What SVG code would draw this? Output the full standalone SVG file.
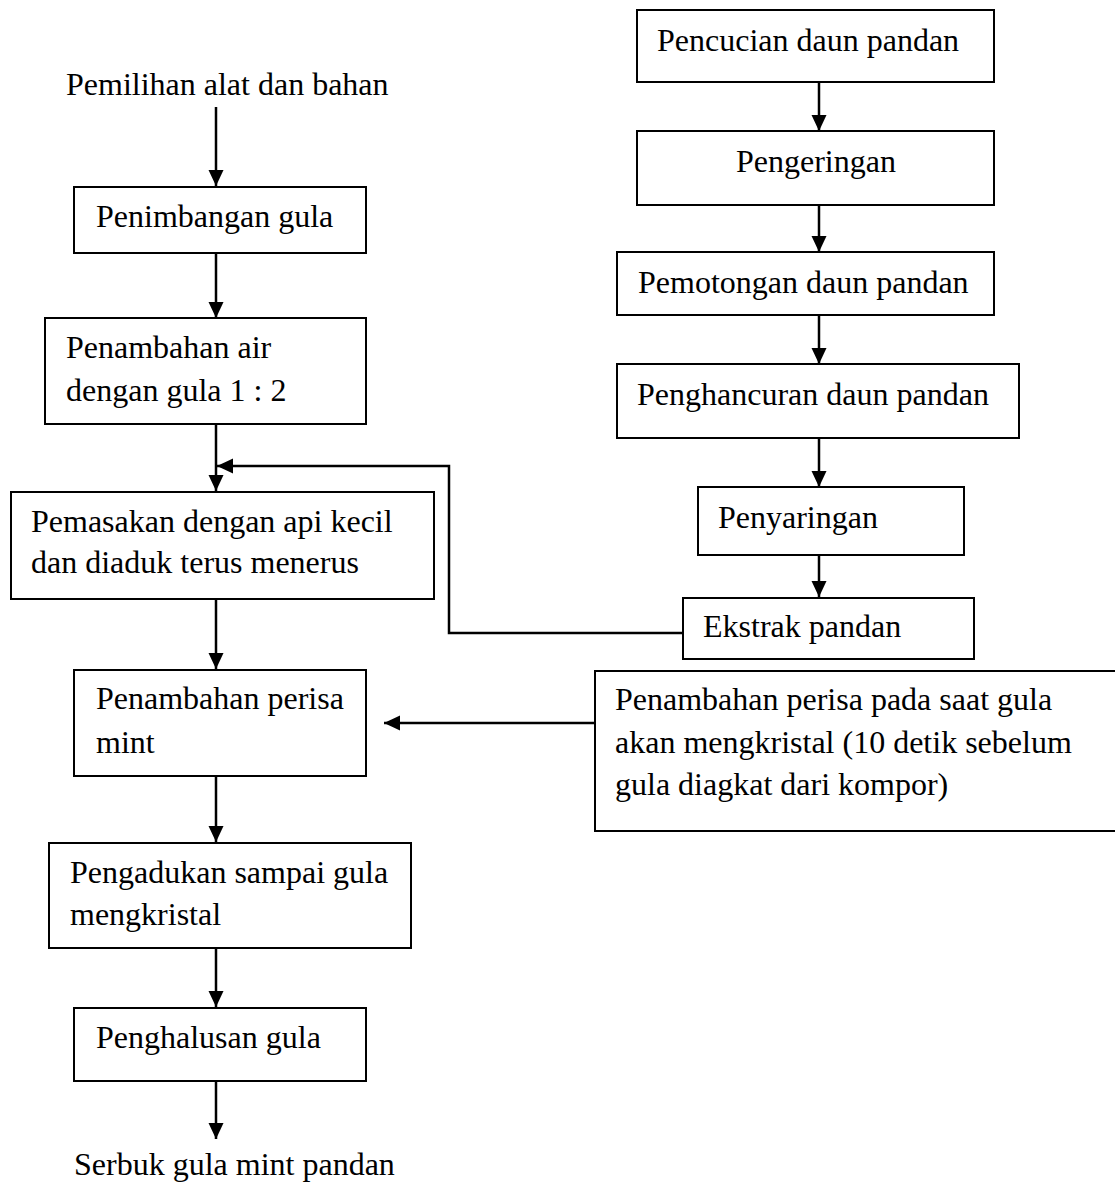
<svg xmlns="http://www.w3.org/2000/svg" width="1115" height="1184" viewBox="0 0 1115 1184">
<style>
.box{fill:#fff;stroke:#000;stroke-width:2}
.t{font-family:"Liberation Serif","Times New Roman",serif;font-size:32px;fill:#000}
.c{fill:none;stroke:#000;stroke-width:2.5}
</style>
<defs>
<marker id="ah" markerUnits="userSpaceOnUse" markerWidth="16" markerHeight="16" refX="16" refY="8" orient="auto">
<path d="M0,0.5 L16,8 L0,15.5 z" fill="#000"/>
</marker>
</defs>
<rect width="1115" height="1184" fill="#fff"/>
<g id="connectors">
<line class="c" x1="216" y1="107" x2="216" y2="186" marker-end="url(#ah)"/>
<line class="c" x1="216" y1="253" x2="216" y2="318" marker-end="url(#ah)"/>
<line class="c" x1="216" y1="424" x2="216" y2="491" marker-end="url(#ah)"/>
<line class="c" x1="216" y1="599" x2="216" y2="669" marker-end="url(#ah)"/>
<line class="c" x1="216" y1="776" x2="216" y2="842" marker-end="url(#ah)"/>
<line class="c" x1="216" y1="948" x2="216" y2="1007" marker-end="url(#ah)"/>
<line class="c" x1="216" y1="1081" x2="216" y2="1139" marker-end="url(#ah)"/>
<polyline class="c" points="683,633 449,633 449,466 217,466" marker-end="url(#ah)"/>
<line class="c" x1="595" y1="723" x2="384" y2="723" marker-end="url(#ah)"/>
<line class="c" x1="819" y1="82" x2="819" y2="131" marker-end="url(#ah)"/>
<line class="c" x1="819" y1="205" x2="819" y2="252" marker-end="url(#ah)"/>
<line class="c" x1="819" y1="315" x2="819" y2="364" marker-end="url(#ah)"/>
<line class="c" x1="819" y1="438" x2="819" y2="487" marker-end="url(#ah)"/>
<line class="c" x1="819" y1="555" x2="819" y2="597" marker-end="url(#ah)"/>
</g>
<g id="start"><text class="t" x="66" y="95">Pemilihan alat dan bahan</text></g>
<g id="penimbangan"><rect class="box" x="74" y="187" width="292" height="66"/><text class="t" x="96" y="227">Penimbangan gula</text></g>
<g id="penambahan-air"><rect class="box" x="45" y="318" width="321" height="106"/><text class="t" x="66" y="358">Penambahan air</text><text class="t" x="66" y="401">dengan gula 1 : 2</text></g>
<g id="pemasakan"><rect class="box" x="11" y="492" width="423" height="107"/><text class="t" x="31" y="532">Pemasakan dengan api kecil</text><text class="t" x="31" y="573">dan diaduk terus menerus</text></g>
<g id="perisa-mint"><rect class="box" x="74" y="670" width="292" height="106"/><text class="t" x="96" y="709">Penambahan perisa</text><text class="t" x="96" y="753">mint</text></g>
<g id="pengadukan"><rect class="box" x="49" y="843" width="362" height="105"/><text class="t" x="70" y="883">Pengadukan sampai gula</text><text class="t" x="70" y="925">mengkristal</text></g>
<g id="penghalusan"><rect class="box" x="74" y="1008" width="292" height="73"/><text class="t" x="96" y="1048">Penghalusan gula</text></g>
<g id="end"><text class="t" x="74" y="1175">Serbuk gula mint pandan</text></g>
<g id="pencucian"><rect class="box" x="637" y="10" width="357" height="72"/><text class="t" x="657" y="51">Pencucian daun pandan</text></g>
<g id="pengeringan"><rect class="box" x="637" y="131" width="357" height="74"/><text class="t" x="736" y="172">Pengeringan</text></g>
<g id="pemotongan"><rect class="box" x="617" y="252" width="377" height="63"/><text class="t" x="638" y="293">Pemotongan daun pandan</text></g>
<g id="penghancuran"><rect class="box" x="617" y="364" width="402" height="74"/><text class="t" x="637" y="405">Penghancuran daun pandan</text></g>
<g id="penyaringan"><rect class="box" x="698" y="487" width="266" height="68"/><text class="t" x="718" y="528">Penyaringan</text></g>
<g id="ekstrak"><rect class="box" x="683" y="598" width="291" height="61"/><text class="t" x="703" y="637">Ekstrak pandan</text></g>
<g id="perisa-note"><rect class="box" x="595" y="671" width="530" height="160"/><text class="t" x="615" y="710">Penambahan perisa pada saat gula</text><text class="t" x="615" y="753">akan mengkristal (10 detik sebelum</text><text class="t" x="615" y="795">gula diagkat dari kompor)</text></g>
</svg>
